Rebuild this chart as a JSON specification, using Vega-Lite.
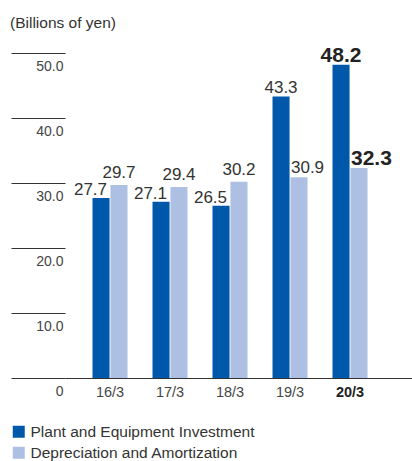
{
  "$schema": "https://vega.github.io/schema/vega-lite/v6.json",
  "width": 347,
  "height": 325,
  "autosize": {"type": "none"},
  "padding": {"left": 65, "top": 53, "right": 0, "bottom": 83},
  "background": "white",
  "config": {
    "view": {"stroke": null},
    "font": "Liberation Sans",
    "text": {"font": "Liberation Sans", "color": "#333333"}
  },
  "title": {
    "text": "(Billions of yen)",
    "anchor": "start",
    "frame": "group",
    "dx": -55,
    "fontSize": 15.5,
    "fontWeight": "normal",
    "color": "#333333",
    "font": "Liberation Sans",
    "offset": 13
  },
  "data": {
    "values": [
      {"year": "16/3", "series": "Plant and Equipment Investment", "value": 27.7},
      {"year": "16/3", "series": "Depreciation and Amortization", "value": 29.7},
      {"year": "17/3", "series": "Plant and Equipment Investment", "value": 27.1},
      {"year": "17/3", "series": "Depreciation and Amortization", "value": 29.4},
      {"year": "18/3", "series": "Plant and Equipment Investment", "value": 26.5},
      {"year": "18/3", "series": "Depreciation and Amortization", "value": 30.2},
      {"year": "19/3", "series": "Plant and Equipment Investment", "value": 43.3},
      {"year": "19/3", "series": "Depreciation and Amortization", "value": 30.9},
      {"year": "20/3", "series": "Plant and Equipment Investment", "value": 48.2},
      {"year": "20/3", "series": "Depreciation and Amortization", "value": 32.3}
    ]
  },
  "encoding": {
    "x": {
      "field": "year",
      "type": "nominal",
      "sort": null,
      "scale": {"paddingInner": 0.4167, "paddingOuter": 0.6, "align": 0.382},
      "axis": {
        "title": null,
        "labelAngle": 0,
        "ticks": false,
        "domain": true,
        "domainColor": "#333333",
        "domainWidth": 1,
        "labelPadding": 7,
        "labelFontSize": 14.5,
        "labelFont": "Liberation Sans",
        "labelColor": {"condition": {"test": "datum.value == '20/3'", "value": "#222222"}, "value": "#444444"},
        "labelFontWeight": {"condition": {"test": "datum.value == '20/3'", "value": "bold"}, "value": "normal"}
      }
    },
    "xOffset": {
      "field": "series",
      "type": "nominal",
      "scale": {"domain": ["Plant and Equipment Investment", "Depreciation and Amortization"], "paddingInner": 0.05}
    },
    "y": {
      "field": "value",
      "type": "quantitative",
      "scale": {"domain": [0, 50], "nice": false},
      "axis": {
        "title": null,
        "values": [0, 10, 20, 30, 40, 50],
        "domain": false,
        "grid": false,
        "ticks": true,
        "tickSize": 54,
        "tickColor": "#333333",
        "tickWidth": 1,
        "labelAlign": "right",
        "labelBaseline": "top",
        "labelPadding": -52,
        "labelOffset": 6,
        "labelFontSize": 14,
        "labelFont": "Liberation Sans",
        "labelColor": "#444444",
        "labelExpr": "datum.value == 0 ? '0' : format(datum.value, '.1f')"
      }
    }
  },
  "layer": [
    {
      "mark": {"type": "bar"},
      "encoding": {
        "color": {
          "field": "series",
          "type": "nominal",
          "scale": {"domain": ["Plant and Equipment Investment", "Depreciation and Amortization"], "range": ["#0058aa", "#adbfe3"]},
          "legend": {
            "orient": "none",
            "legendX": -54,
            "legendY": 371,
            "title": null,
            "symbolType": "square",
            "symbolSize": 144,
            "symbolStrokeWidth": 0,
            "symbolOpacity": 1,
            "labelFontSize": 15.5,
            "labelFont": "Liberation Sans",
            "labelColor": "#333333",
            "labelOffset": 4,
            "labelLimit": 0,
            "rowPadding": 4,
            "padding": 0
          }
        }
      }
    },
    {
      "transform": [{"filter": "datum.series == 'Plant and Equipment Investment' && indexof(['16/3','17/3','18/3'], datum.year) >= 0"}],
      "mark": {"type": "text", "align": "right", "baseline": "alphabetic", "dx": 6, "dy": -3, "fontSize": 17},
      "encoding": {"text": {"field": "value", "type": "quantitative", "format": ".1f"}}
    },
    {
      "transform": [{"filter": "datum.series == 'Depreciation and Amortization' && indexof(['16/3','17/3','18/3'], datum.year) >= 0"}],
      "mark": {"type": "text", "align": "center", "baseline": "alphabetic", "dy": -7, "fontSize": 17},
      "encoding": {"text": {"field": "value", "type": "quantitative", "format": ".1f"}}
    },
    {
      "transform": [{"filter": "datum.year == '19/3' && datum.series == 'Plant and Equipment Investment'"}],
      "mark": {"type": "text", "align": "center", "baseline": "alphabetic", "dy": -4, "fontSize": 17},
      "encoding": {"text": {"field": "value", "type": "quantitative", "format": ".1f"}}
    },
    {
      "transform": [{"filter": "datum.year == '19/3' && datum.series == 'Depreciation and Amortization'"}],
      "mark": {"type": "text", "align": "left", "baseline": "alphabetic", "dx": -8, "dy": -4, "fontSize": 17},
      "encoding": {"text": {"field": "value", "type": "quantitative", "format": ".1f"}}
    },
    {
      "transform": [{"filter": "datum.year == '20/3' && datum.series == 'Plant and Equipment Investment'"}],
      "mark": {"type": "text", "align": "center", "baseline": "alphabetic", "dy": -3, "fontSize": 21, "fontWeight": "bold", "color": "#222222"},
      "encoding": {"text": {"field": "value", "type": "quantitative", "format": ".1f"}}
    },
    {
      "transform": [{"filter": "datum.year == '20/3' && datum.series == 'Depreciation and Amortization'"}],
      "mark": {"type": "text", "align": "left", "baseline": "alphabetic", "dx": -8, "dy": -3, "fontSize": 21, "fontWeight": "bold", "color": "#222222"},
      "encoding": {"text": {"field": "value", "type": "quantitative", "format": ".1f"}}
    }
  ]
}
